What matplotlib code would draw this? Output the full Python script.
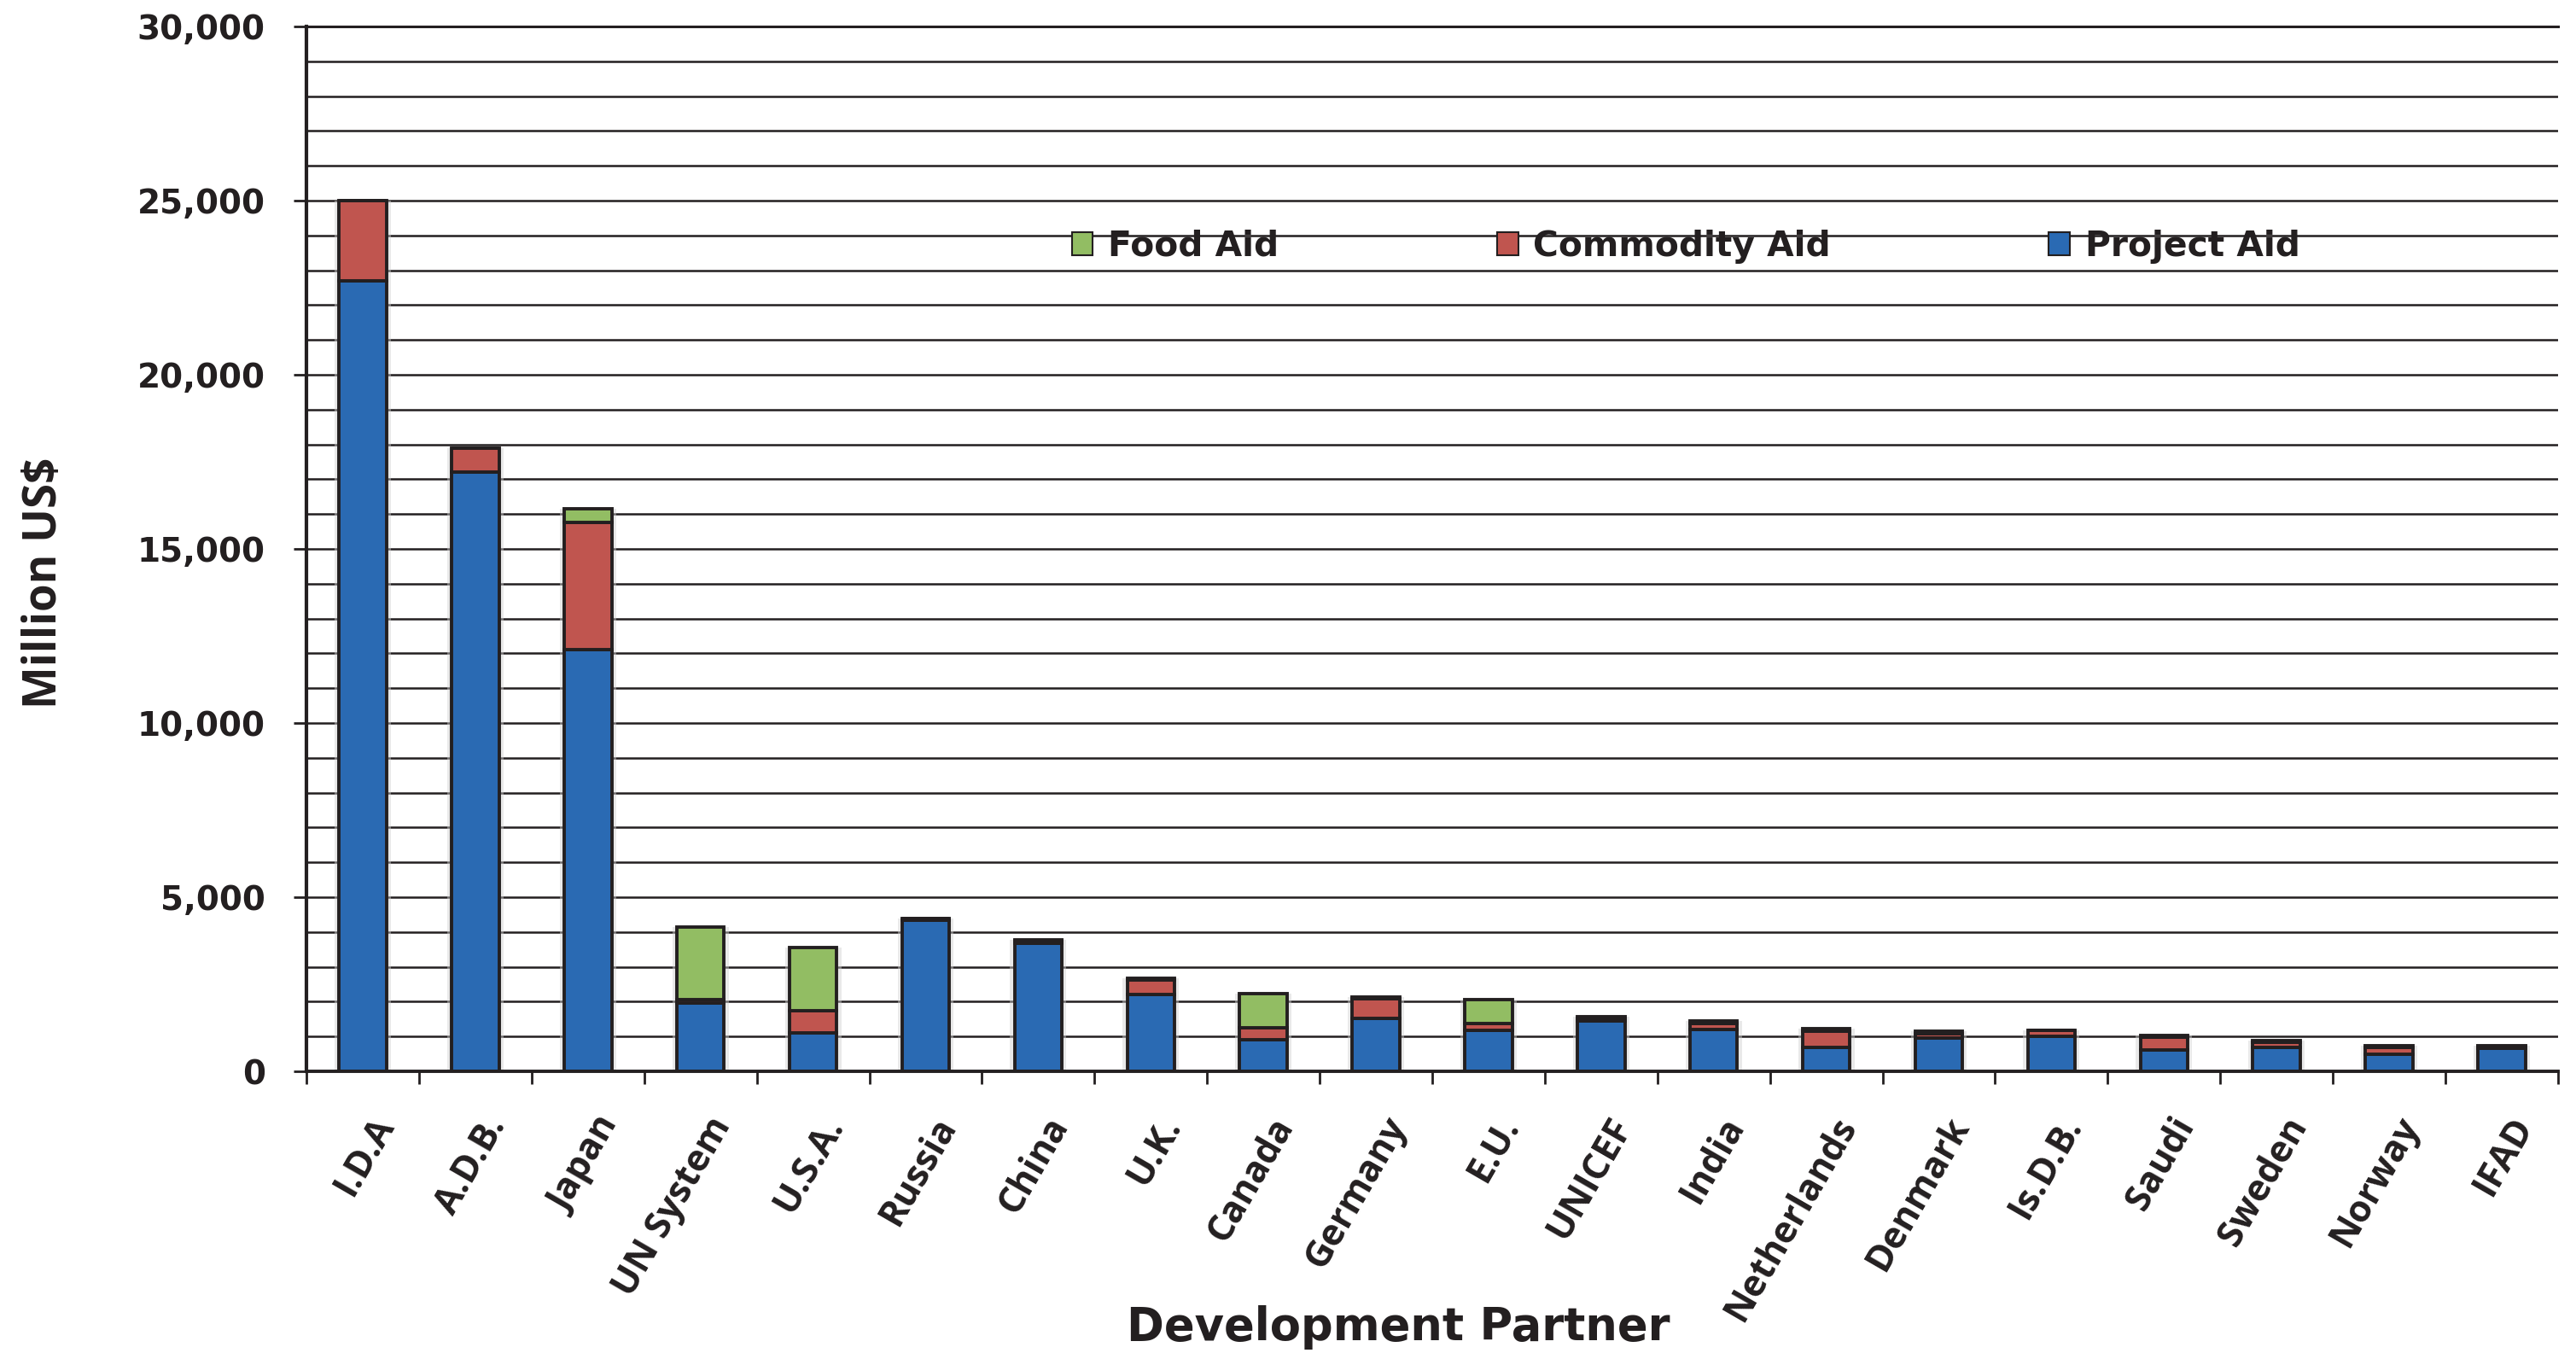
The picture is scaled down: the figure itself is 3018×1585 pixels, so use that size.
import numpy as np
import matplotlib.pyplot as plt
import matplotlib.transforms as mtransforms
from matplotlib.ticker import MultipleLocator, FuncFormatter
from matplotlib.patches import Patch

partners = ["I.D.A", "A.D.B.", "Japan", "UN System", "U.S.A.", "Russia", "China",
            "U.K.", "Canada", "Germany", "E.U.", "UNICEF", "India", "Netherlands",
            "Denmark", "Is.D.B.", "Saudi", "Sweden", "Norway", "IFAD"]

# million US$
project_aid = [22700, 17200, 12100, 1950, 1100, 4350, 3680, 2210, 900, 1510,
               1170, 1450, 1190, 690, 960, 1010, 610, 680, 480, 670]
commodity_aid = [2300, 700, 3650, 120, 630, 40, 60, 410, 340, 580,
                 200, 60, 190, 470, 130, 160, 360, 150, 210, 30]
food_aid = [0, 0, 400, 2080, 1820, 0, 40, 40, 980, 40,
            700, 70, 60, 60, 50, 0, 60, 50, 50, 40]

ink = "#231f20"
blue = "#2a6ab3"
red = "#c0554f"
green = "#92bd63"

fig = plt.figure(figsize=(15.09, 7.925), dpi=200)
ax = fig.add_axes([0.119, 0.2082, 0.874, 0.7722])

x = np.arange(len(partners))
project = np.array(project_aid)
commodity = np.array(commodity_aid)
food = np.array(food_aid)
total = project + commodity + food

# soft shadow behind the bars
ax.bar(x, total, width=0.5, color="#cfcfcf", alpha=0.45, linewidth=0, zorder=1.5)

kw = dict(width=0.42, edgecolor=ink, linewidth=1.4, zorder=3)
ax.bar(x, project, color=blue, **kw)
ax.bar(x, commodity, bottom=project, color=red, **kw)
ax.bar(x, food, bottom=project + commodity, color=green, **kw)

ax.set_xlim(-0.5, len(partners) - 0.5)
ax.set_ylim(0, 30000)

# y axis
ax.yaxis.set_major_locator(MultipleLocator(5000))
ax.yaxis.set_minor_locator(MultipleLocator(1000))
ax.yaxis.set_major_formatter(FuncFormatter(lambda v, p: f"{v:,.0f}"))
ax.grid(axis="y", which="both", color=ink, linewidth=0.9, zorder=0)
ax.set_axisbelow(True)
ax.tick_params(axis="y", which="major", length=5.4, width=1.0, color=ink,
               pad=12, labelsize=14, labelcolor=ink)
ax.tick_params(axis="y", which="minor", length=0)
for lab in ax.get_yticklabels():
    lab.set_fontweight("bold")

# x axis: labels at centres, tick marks at the boundaries
ax.set_xticks(x)
ax.set_xticklabels(partners, rotation=60, ha="right", va="center",
                   rotation_mode="anchor", fontsize=15.5, family="Open Sans",
                   fontweight="bold", color=ink)
ax.tick_params(axis="x", which="major", length=0, pad=20.5)
ax.set_xticks(np.arange(-0.5, len(partners)), minor=True)
ax.tick_params(axis="x", which="minor", length=5.4, width=1.0, color=ink)
shift = mtransforms.ScaledTranslation(0.13, 0, fig.dpi_scale_trans)
for lab in ax.get_xticklabels():
    lab.set_transform(lab.get_transform() + shift)

ax.spines["right"].set_visible(False)
ax.spines["left"].set_linewidth(1.5)
ax.spines["bottom"].set_linewidth(1.4)
ax.spines["top"].set_linewidth(1.1)
for s in ax.spines.values():
    s.set_color(ink)
    s.set_zorder(4)

fig.text(0.0172, 0.569, "Million US$", rotation=90, ha="center", va="center",
         fontsize=19, fontweight="bold", family="Open Sans", color=ink)
fig.text(0.5427, 0.019, "Development Partner", ha="center", va="center",
         fontsize=19, fontweight="bold", family="DejaVu Sans", color=ink)

handles = [Patch(facecolor=green, edgecolor=ink, linewidth=0.75, label="Food Aid"),
           Patch(facecolor=red, edgecolor=ink, linewidth=0.75, label="Commodity Aid"),
           Patch(facecolor=blue, edgecolor=ink, linewidth=0.75, label="Project Aid")]
fig.legend(handles=handles, loc="center", bbox_to_anchor=(0.6544, 0.8177), ncol=3,
           frameon=False, prop={"weight": "bold", "size": 14.7}, labelcolor=ink,
           handlelength=0.61, handleheight=0.61, handletextpad=0.42,
           columnspacing=6.27, borderpad=0, borderaxespad=0)

fig.savefig("out.png", dpi=200)
